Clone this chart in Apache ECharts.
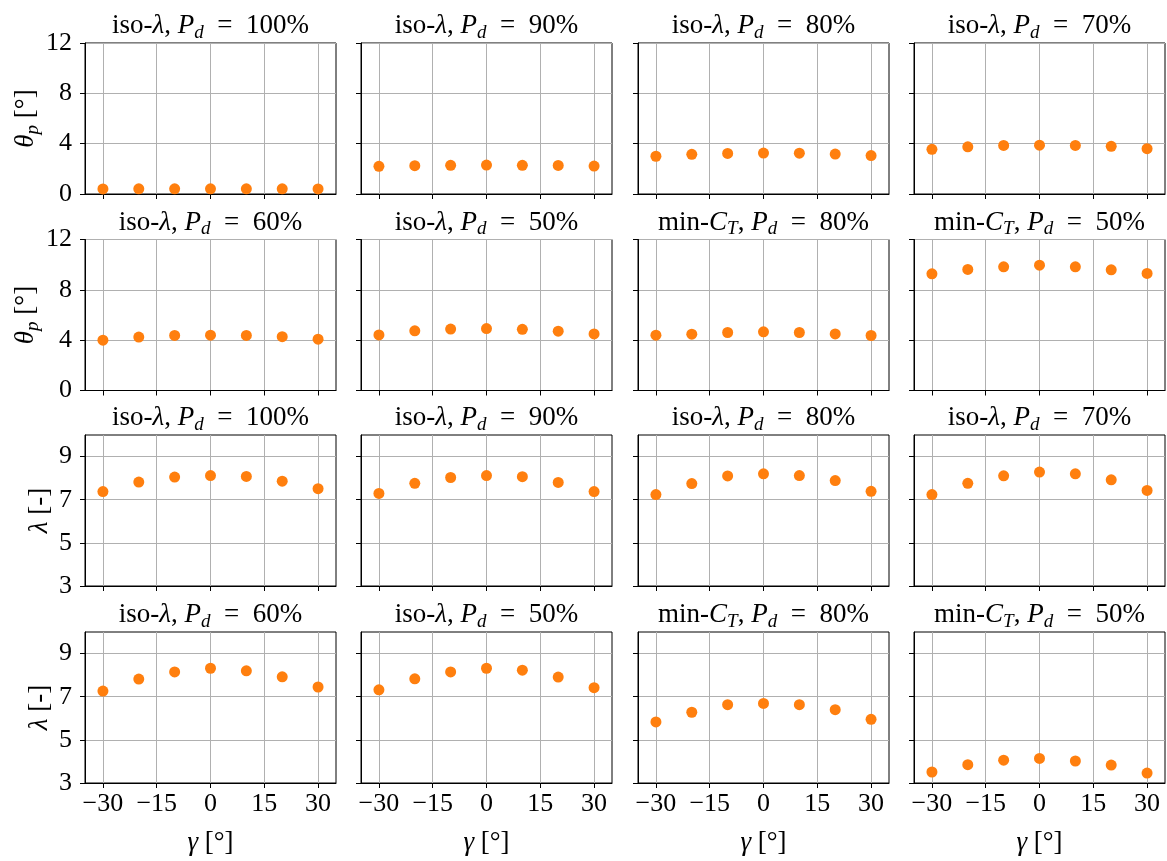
<!DOCTYPE html>
<html>
<head>
<meta charset="utf-8">
<script src="https://cdn.jsdelivr.net/npm/echarts@6/dist/echarts.min.js"></script>
<style>
html,body{margin:0;padding:0;background:#fff;}
#chart{width:1167px;height:861px;}
</style>
</head>
<body>
<div id="chart"></div>
<script>
// ---------- data ----------
const gammaDeg = [-30, -20, -10, 0, 10, 20, 30];
const xTicks = [-30, -15, 0, 15, 30];
const thetaTicks = [0, 4, 8, 12];
const lambdaTicks = [3, 5, 7, 9];

const thetaIso100 = [0.40, 0.41, 0.41, 0.41, 0.41, 0.41, 0.40];
const thetaIso90  = [2.20, 2.25, 2.28, 2.30, 2.28, 2.27, 2.22];
const thetaIso80  = [3.00, 3.15, 3.22, 3.25, 3.24, 3.17, 3.05];
const thetaIso70  = [3.55, 3.75, 3.86, 3.88, 3.86, 3.79, 3.60];
const thetaIso60  = [4.00, 4.25, 4.38, 4.40, 4.38, 4.28, 4.08];
const thetaIso50  = [4.42, 4.74, 4.88, 4.92, 4.86, 4.71, 4.50];
const thetaMinCT80 = [4.40, 4.48, 4.61, 4.66, 4.61, 4.50, 4.37];
const thetaMinCT50 = [9.27, 9.62, 9.83, 9.96, 9.83, 9.59, 9.30];

const lambdaIso100 = [7.38, 7.82, 8.05, 8.12, 8.08, 7.86, 7.51];
const lambdaIso90  = [7.29, 7.76, 8.03, 8.12, 8.07, 7.80, 7.38];
const lambdaIso80  = [7.24, 7.75, 8.10, 8.20, 8.12, 7.89, 7.39];
const lambdaIso70  = [7.24, 7.76, 8.11, 8.28, 8.20, 7.92, 7.43];
const lambdaIso60  = [7.26, 7.82, 8.15, 8.32, 8.20, 7.92, 7.45];
const lambdaIso50  = [7.32, 7.83, 8.15, 8.32, 8.23, 7.91, 7.42];
const lambdaMinCT80 = [5.83, 6.28, 6.63, 6.69, 6.63, 6.40, 5.95];
const lambdaMinCT50 = [3.51, 3.85, 4.06, 4.14, 4.02, 3.83, 3.46];

// panel titles: [method, Pd]
const titleMethod = ['iso', 'iso', 'iso', 'iso', 'iso', 'iso', 'min', 'min'];
const titlePd = ['100', '90', '80', '70', '60', '50', '80', '50'];

const thetaSets = [thetaIso100, thetaIso90, thetaIso80, thetaIso70, thetaIso60, thetaIso50, thetaMinCT80, thetaMinCT50];
const lambdaSets = [lambdaIso100, lambdaIso90, lambdaIso80, lambdaIso70, lambdaIso60, lambdaIso50, lambdaMinCT80, lambdaMinCT50];

// ---------- layout ----------
const LEFTS = [85, 361, 638, 914];
const TOPS = [43, 239.5, 435, 632];
const W = 251, H = 151;
const SERIF = '"Liberation Serif", "DejaVu Serif", serif';
const ORANGE = '#ff7f0e';
const GRIDC = '#b0b0b0';

const richStyles = {
  r: { fontFamily: SERIF, fontSize: 27, lineHeight: 32, color: '#000' },
  i: { fontFamily: SERIF, fontSize: 27, fontStyle: 'italic', lineHeight: 32, color: '#000' },
  s: { fontFamily: SERIF, fontSize: 19, fontStyle: 'italic', lineHeight: 10, verticalAlign: 'bottom', color: '#000' }
};

function titleText(k) {
  const head = titleMethod[k] === 'iso' ? '{r|iso-}{i|λ}' : '{r|min-}{i|C}{s|T}';
  return head + '{r|, }{i|P}{s|d}{r|  =  ' + titlePd[k] + '%}';
}

const minusFmt = v => String(v).replace('-', '\u2212');

const grids = [], xAxes = [], yAxes = [], series = [], graphics = [];
let idx = 0;
for (let row = 0; row < 4; row++) {
  const isTheta = row < 2;
  for (let col = 0; col < 4; col++) {
    const k = (row % 2) * 4 + col;
    const data = (isTheta ? thetaSets[k] : lambdaSets[k]).map((v, j) => [gammaDeg[j], v]);
    grids.push({
      left: LEFTS[col], top: TOPS[row], width: W, height: H,
      show: true, borderColor: '#000', borderWidth: 1, backgroundColor: 'transparent'
    });
    xAxes.push({
      type: 'value', gridIndex: idx, min: -35, max: 35,
      axisLine: { show: true, onZero: false, lineStyle: { color: '#000', width: 1 } },
      axisTick: { show: true, inside: false, length: 5, customValues: xTicks, lineStyle: { color: '#000', width: 1 } },
      axisLabel: {
        show: row === 3, customValues: xTicks, margin: 8, formatter: minusFmt,
        fontFamily: SERIF, fontSize: 26, color: '#000'
      },
      splitLine: { show: true, lineStyle: { color: GRIDC, width: 1 } }
    });
    yAxes.push({
      type: 'value', gridIndex: idx,
      min: isTheta ? 0 : 3, max: isTheta ? 12 : 10, interval: isTheta ? 4 : 2,
      axisLine: { show: true, onZero: false, lineStyle: { color: '#000', width: 1 } },
      axisTick: { show: true, inside: false, length: 5, customValues: isTheta ? thetaTicks : lambdaTicks, lineStyle: { color: '#000', width: 1 } },
      axisLabel: {
        show: col === 0, customValues: isTheta ? thetaTicks : lambdaTicks, margin: 13,
        fontFamily: SERIF, fontSize: 26, color: '#000'
      },
      splitLine: { show: true, lineStyle: { color: GRIDC, width: 1 } }
    });
    series.push({
      type: 'scatter', xAxisIndex: idx, yAxisIndex: idx, data: data,
      symbol: 'circle', symbolSize: 11, itemStyle: { color: ORANGE, opacity: 1 },
      clip: false, z: 5
    });
    graphics.push({
      type: 'text', x: LEFTS[col] + W / 2, y: TOPS[row] - 17, silent: true,
      style: { text: titleText(k), rich: richStyles, align: 'center', verticalAlign: 'middle', fill: '#000' }
    });
    idx++;
  }
  // y axis name for the row
  graphics.push({
    type: 'text', x: isTheta ? 26 : 40, y: TOPS[row] + H / 2, rotation: Math.PI / 2, silent: true,
    style: {
      text: isTheta ? '{i|θ}{s|p}{r| [°]}' : '{i|λ}{r| [-]}',
      rich: richStyles, align: 'center', verticalAlign: 'middle', fill: '#000'
    }
  });
}
// x axis names
for (let col = 0; col < 4; col++) {
  graphics.push({
    type: 'text', x: LEFTS[col] + W / 2, y: 843, silent: true,
    style: { text: '{i|γ}{r| [°]}', rich: richStyles, align: 'center', verticalAlign: 'middle', fill: '#000' }
  });
}

const chart = echarts.init(document.getElementById('chart'), null, { renderer: 'canvas' });
chart.setOption({
  animation: false,
  backgroundColor: '#fff',
  grid: grids,
  xAxis: xAxes,
  yAxis: yAxes,
  series: series,
  graphic: graphics
});
</script>
</body>
</html>
